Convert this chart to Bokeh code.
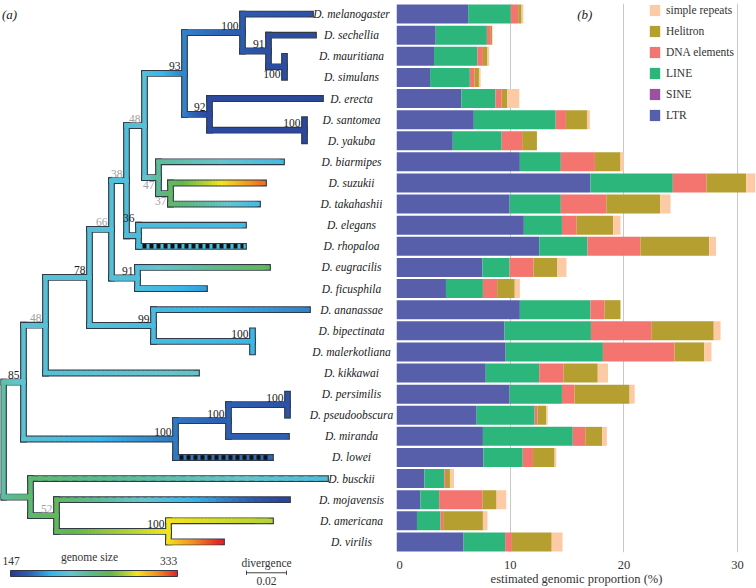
import numpy as np
from bokeh.plotting import figure
from bokeh.models import (ColumnDataSource, Range1d, FixedTicker, Legend, LegendItem,
                          ColorBar, LinearColorMapper)
from bokeh.layouts import row
from bokeh.embed import file_html
from bokeh.resources import INLINE
from bokeh.core.properties import value

# ---------------- data ----------------
species = ["D. melanogaster", "D. sechellia", "D. mauritiana", "D. simulans", "D. erecta",
           "D. santomea", "D. yakuba", "D. biarmipes", "D. suzukii", "D. takahashii",
           "D. elegans", "D. rhopaloa", "D. eugracilis", "D. ficusphila", "D. ananassae",
           "D. bipectinata", "D. malerkotliana", "D. kikkawai", "D. persimilis",
           "D. pseudoobscura", "D. miranda", "D. lowei", "D. busckii", "D. mojavensis",
           "D. americana", "D. virilis"]

# estimated genomic proportion (%) of each repeat class
LTR = [6.3, 3.45, 3.3, 2.95, 5.7, 6.8, 4.95, 10.85, 17.05, 9.95, 11.2, 12.55, 7.55, 4.35,
       10.85, 9.5, 9.6, 7.85, 9.95, 7.05, 7.6, 7.65, 2.45, 2.1, 1.8, 5.9]
SINE = [0.0] * 26
LINE = [3.75, 4.5, 3.8, 3.5, 3.0, 7.2, 4.3, 3.6, 7.25, 4.5, 3.35, 4.25, 2.4, 3.25,
        6.2, 7.6, 8.55, 4.7, 4.6, 5.1, 7.9, 3.45, 1.75, 1.65, 2.05, 3.65]
DNA = [0.65, 0.35, 0.5, 0.4, 0.55, 0.9, 1.8, 3.0, 2.95, 4.0, 1.3, 4.65, 2.1, 1.25,
       1.25, 5.35, 6.3, 2.15, 1.1, 0.25, 1.1, 0.9, 0.15, 3.8, 0.25, 0.6]
Helitron = [0.3, 0.1, 0.4, 0.4, 0.5, 1.85, 1.3, 2.25, 3.5, 4.75, 3.2, 6.05, 2.1, 1.55,
            1.4, 5.45, 2.6, 3.0, 4.85, 0.75, 1.5, 1.9, 0.35, 1.25, 3.5, 3.5]
simple_repeats = [0.15, 0.05, 0.15, 0.15, 1.05, 0.25, 0.0, 0.3, 0.8, 0.9, 0.65, 0.6, 0.8, 0.45,
                  0.0, 0.6, 0.65, 0.9, 0.45, 0.15, 0.4, 0.15, 0.35, 0.85, 0.4, 0.95]
x_ticks = [0, 10, 20, 30]

# phylogeny: node, parent, divergence from root, genome size (Mb), support
tree_nodes = ["root", "n85", "n48b", "n78", "n66", "n38", "n48", "n93", "n100a",
              "D. melanogaster", "n91a", "D. sechellia", "n100b", "D. mauritiana", "D. simulans",
              "n92", "D. erecta", "n100c", "D. santomea", "D. yakuba",
              "n47", "D. biarmipes", "n37", "D. suzukii", "D. takahashii",
              "n36", "D. elegans", "D. rhopaloa", "n91b", "D. eugracilis", "D. ficusphila",
              "n99", "D. ananassae", "n100d", "D. bipectinata", "D. malerkotliana",
              "D. kikkawai", "n100e", "n100f", "n100g", "D. persimilis", "D. pseudoobscura",
              "D. miranda", "D. lowei", "nbus", "D. busckii", "n52", "D. mojavensis",
              "n100h", "D. americana", "D. virilis"]
tree_parents = [None, "root", "n85", "n48b", "n78", "n66", "n38", "n48", "n93",
                "n100a", "n100a", "n91a", "n91a", "n100b", "n100b",
                "n93", "n92", "n92", "n100c", "n100c",
                "n48", "n47", "n47", "n37", "n37",
                "n38", "n36", "n36", "n66", "n91b", "n91b",
                "n78", "n99", "n99", "n100d", "n100d",
                "n48b", "n85", "n100e", "n100f", "n100g", "n100g",
                "n100f", "n100e", "root", "nbus", "nbus", "n52",
                "n52", "n100h", "n100h"]
tree_depth = [0.0, 0.010, 0.021, 0.043, 0.054, 0.0615, 0.0705, 0.0905, 0.1195,
              0.1535, 0.1325, 0.155, 0.1405, 0.1405, 0.1405,
              0.103, 0.1585, 0.1505, 0.1505, 0.1505,
              0.0775, 0.139, 0.0835, 0.130, 0.127,
              0.0675, 0.120, 0.120, 0.067, 0.132, 0.1005,
              0.075, 0.152, 0.1245, 0.1245, 0.1245,
              0.0965, 0.086, 0.1125, 0.142, 0.142, 0.142,
              0.1415, 0.1335, 0.0135, 0.161, 0.0265, 0.142,
              0.0825, 0.1335, 0.109]
tree_gsize = [227, 210, 207, 207, 206, 205, 207, 178, 165,
              160, 158, 157, 157, 157, 157,
              156, 155, 154, 154, 154,
              231, 199, 249, 318, 199,
              202, 197, 200, 205, 255, 186,
              200, 178, 194, 194, 194,
              216, 175, 167, 160, 160, 160,
              167, 170, 245, 203, 253, 151,
              288, 277, 333]
tree_support = [None, 85, 48, 78, 66, 38, 48, 93, 100,
                None, 91, None, 100, None, None,
                92, None, 100, None, None,
                47, None, 37, None, None,
                36, None, None, 91, None, None,
                99, None, 100, None, None,
                None, 100, 100, 100, None, None,
                None, None, None, None, 52, None,
                100, None, None]

gsize_low, gsize_high = 147, 333

# ---------------- styles ----------------
SERIF = value("Liberation Serif")
cmap_values = [147, 169, 192, 214, 236, 259, 277, 288, 311, 333]
cmap_colors = ["#2b3990", "#2e63b6", "#37b6e9", "#66c4cc", "#5cb98a", "#64b748",
               "#b6d234", "#f5e51b", "#f28e24", "#e52328"]
bar_colors = ["#575fab", "#9b50a1", "#2cb67b", "#f4756f", "#b59f31", "#fccaa5"]
outline_color = "#2f3a46"
gray_labels = {"n48", "n38", "n47", "n37", "n66", "n48b", "n52"}
below_labels = {"n47", "n37", "n100b"}
top_child_labels = {"n36"}
dashed_tips = {"D. rhopaloa", "D. lowei"}

_rgb = np.array([[int(c[i:i + 2], 16) for i in (1, 3, 5)] for c in cmap_colors], float)


def gcolor(v):
    r, g, b = (np.interp(v, cmap_values, _rgb[:, k]) for k in range(3))
    return "#%02x%02x%02x" % (int(round(r)), int(round(g)), int(round(b)))


palette = [gcolor(v) for v in np.linspace(gsize_low, gsize_high, 256)]

# ---------------- tree layout ----------------
depth = dict(zip(tree_nodes, tree_depth))
gsz = dict(zip(tree_nodes, tree_gsize))
parent = dict(zip(tree_nodes, tree_parents))
support = dict(zip(tree_nodes, tree_support))
children = {n: [] for n in tree_nodes}
for n, par in zip(tree_nodes, tree_parents):
    if par is not None:
        children[par].append(n)

ypos = {}


def layout_y(n):
    if not children[n]:
        ypos[n] = float(species.index(n))
    else:
        ys = [layout_y(c) for c in children[n]]
        ypos[n] = (min(ys) + max(ys)) / 2.0
    return ypos[n]


layout_y("root")

BAR_FRAME_H = 549
TREE_FRAME_H = 585
ROW_PX = BAR_FRAME_H / 26.0
tree = figure(frame_width=396, frame_height=TREE_FRAME_H, output_backend="svg",
              toolbar_location=None,
              x_range=Range1d(-0.0015, 0.1965),
              y_range=Range1d(-0.5 + TREE_FRAME_H / ROW_PX, -0.5),
              x_axis_location=None, y_axis_location=None, title=None,
              min_border_left=0, min_border_right=0, min_border_top=3, min_border_bottom=0)
tree.grid.visible = False
tree.outline_line_color = None

vx0, vy0, vx1, vy1, vcol = [], [], [], [], []
for n in tree_nodes:
    if children[n]:
        ys = [ypos[c] for c in children[n]]
        vx0.append(depth[n]); vx1.append(depth[n])
        vy0.append(min(ys)); vy1.append(max(ys))
        vcol.append(gcolor(gsz[n]))

hx0, hx1, hy = [], [], []
px0, px1, py, pcol = [], [], [], []
NSEG = 30
for n in tree_nodes:
    par = parent[n]
    if par is None or depth[n] <= depth[par]:
        continue
    a, b = depth[par], depth[n]
    hx0.append(a); hx1.append(b); hy.append(ypos[n])
    for k in range(NSEG):
        t0, t1 = k / NSEG, (k + 1) / NSEG
        px0.append(a + (b - a) * t0); px1.append(a + (b - a) * t1); py.append(ypos[n])
        pcol.append(gcolor(gsz[par] + (gsz[n] - gsz[par]) * (t0 + t1) / 2))

# outline
tree.segment(x0=vx0 + hx0, y0=vy0 + hy, x1=vx1 + hx1, y1=vy1 + hy,
             line_color=outline_color, line_width=6.8, line_cap="square")
# coloured fill
tree.segment(x0=vx0, y0=vy0, x1=vx1, y1=vy1, line_color=vcol, line_width=4.5, line_cap="square")
tree.segment(x0=px0, y0=py, x1=px1, y1=py, line_color=pcol, line_width=4.5, line_cap="square")
# dashed tips
dx0, dx1, dy = [], [], []
for n in dashed_tips:
    dx0.append(depth[parent[n]] + 0.002); dx1.append(depth[n]); dy.append(ypos[n])
tree.segment(x0=dx0, y0=dy, x1=dx1, y1=dy, line_color="#111111", line_width=4.5,
             line_dash="4 3", line_cap="butt")

# support labels
for grp_below in (False, True):
    lx, ly, lt, lc = [], [], [], []
    for n in tree_nodes:
        if support[n] is None or ((n in below_labels) != grp_below):
            continue
        lx.append(depth[n])
        ly.append(min(ypos[c] for c in children[n]) if n in top_child_labels else ypos[n])
        lt.append(str(support[n]))
        lc.append("#a0a0a0" if n in gray_labels else "#1a1a1a")
    tree.text(x=lx, y=ly, text=lt, text_color=lc, text_font=SERIF, text_font_size="11.5px",
              text_align="right", text_baseline="top" if grp_below else "bottom",
              x_offset=-4, y_offset=3 if grp_below else -3)

# species labels
tree.text(x=[0.174] * len(species), y=list(range(len(species))), text=species,
          text_font=SERIF, text_font_style="italic", text_font_size="11.5px",
          text_color="#1a1a1a", text_align="center", text_baseline="middle")

# panel label
tree.text(x=[-0.0008], y=[0.02], text=["(a)"], text_font=SERIF, text_font_style="italic",
          text_font_size="13px", text_color="#1a1a1a", text_align="left", text_baseline="middle")

# genome size colour bar
mapper = LinearColorMapper(palette=palette, low=gsize_low, high=gsize_high)
cbar = ColorBar(color_mapper=mapper, orientation="horizontal", location=(10, 12),
                width=167, height=6, padding=0, title=None,
                ticker=FixedTicker(ticks=[]), major_tick_line_color=None,
                minor_tick_line_color=None, major_label_text_font_size="0px",
                label_standoff=0, bar_line_color=outline_color, bar_line_width=1,
                background_fill_alpha=0, border_line_color=None)
tree.add_layout(cbar)
tree.text(x=[0.043], y=[25.69], text=["genome size"], text_font=SERIF, text_font_size="11.5px",
          text_color="#333333", text_align="center", text_baseline="middle")
tree.text(x=[0.00375, 0.0825], y=[25.92, 25.92], text=[str(gsize_low), str(gsize_high)],
          text_font=SERIF, text_font_size="11.5px", text_color="#333333",
          text_align="center", text_baseline="middle")

# divergence scale bar
sb_x, sb_len, sb_y = 0.1215, 0.02, 26.46
tree.segment(x0=[sb_x], y0=[sb_y], x1=[sb_x + sb_len], y1=[sb_y], line_color="#444444", line_width=1)
tree.segment(x0=[sb_x, sb_x + sb_len], y0=[sb_y - 0.1] * 2, x1=[sb_x, sb_x + sb_len],
             y1=[sb_y + 0.1] * 2, line_color="#444444", line_width=1)
tree.text(x=[sb_x + sb_len / 2], y=[26.02], text=["divergence"], text_font=SERIF,
          text_font_size="11.5px", text_color="#333333", text_align="center", text_baseline="middle")
tree.text(x=[sb_x + sb_len / 2], y=[26.84], text=[str(sb_len)], text_font=SERIF,
          text_font_size="11.5px", text_color="#333333", text_align="center", text_baseline="middle")

# ---------------- bar chart ----------------
classes = ["LTR", "SINE", "LINE", "DNA", "Helitron", "simple_repeats"]
legend_names = {"LTR": "LTR", "SINE": "SINE", "LINE": "LINE", "DNA": "DNA elements",
                "Helitron": "Helitron", "simple_repeats": "simple repeats"}
src = ColumnDataSource(dict(y=list(range(len(species))), LTR=LTR, SINE=SINE, LINE=LINE,
                            DNA=DNA, Helitron=Helitron, simple_repeats=simple_repeats))

bars = figure(frame_width=360, frame_height=BAR_FRAME_H, output_backend="svg",
              toolbar_location=None,
              x_range=Range1d(0, 31.66), y_range=Range1d(25.5, -0.5), title=None,
              y_axis_location=None,
              min_border_left=0, min_border_right=0, min_border_top=3, min_border_bottom=0)
bars.outline_line_color = None
bars.ygrid.visible = False
bars.xgrid.ticker = FixedTicker(ticks=x_ticks[1:])
bars.xgrid.grid_line_color = "#c8c8c8"
bars.xgrid.grid_line_width = 1

rends = bars.hbar_stack(classes, y="y", height=0.9, color=bar_colors, source=src, line_color=None)

ax = bars.xaxis[0]
ax.ticker = FixedTicker(ticks=x_ticks)
ax.axis_line_color = None
ax.major_tick_line_color = None
ax.major_tick_out = 0
ax.major_tick_in = 0
ax.minor_tick_line_color = None
ax.major_label_text_font = "Liberation Serif"
ax.major_label_text_font_size = "12.5px"
ax.major_label_text_color = "#333333"
ax.major_label_standoff = 8
ax.axis_label = "estimated genomic proportion (%)"
ax.axis_label_text_font = "Liberation Serif"
ax.axis_label_text_font_size = "12.5px"
ax.axis_label_text_font_style = "normal"
ax.axis_label_text_color = "#333333"
ax.axis_label_standoff = 0

items = [LegendItem(label=legend_names[c], renderers=[r]) for c, r in zip(classes, rends)][::-1]
leg = Legend(items=items, location=(252, BAR_FRAME_H - 119), padding=0, margin=0, spacing=7,
             glyph_width=13, glyph_height=14, label_height=14, label_standoff=5,
             label_text_font="Liberation Serif", label_text_font_size="11.5px",
             label_text_color="#333333", background_fill_alpha=0, border_line_color=None)
bars.add_layout(leg, "center")

bars.text(x=[16.56], y=[0.02], text=["(b)"], text_font=SERIF, text_font_style="italic",
          text_font_size="13px", text_color="#1a1a1a", text_align="center", text_baseline="middle")

p = row(tree, bars)
open("out.html", "w").write(file_html(p, INLINE))
